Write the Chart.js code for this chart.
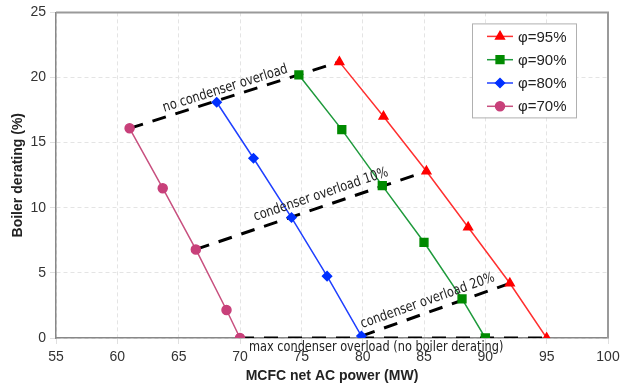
<!DOCTYPE html>
<html>
<head>
<meta charset="utf-8">
<script src="https://cdn.jsdelivr.net/npm/chart.js@4/dist/chart.umd.min.js"></script>
<style>
  body { margin: 0; background: #fff; }
  #wrap { width: 637px; height: 389px; }
</style>
</head>
<body>
<div id="wrap"><canvas id="myChart" width="637" height="389"></canvas></div>
<script>
// series data (MW, %)
const seriesNames = ["φ=95%", "φ=90%", "φ=80%", "φ=70%"];
const phi95x = [78.1, 81.7, 85.2, 88.6, 92.0, 95.0];
const phi95y = [21.2, 17.0, 12.8, 8.5, 4.2, 0];
const phi90x = [74.8, 78.3, 81.6, 85.0, 88.1, 90.0];
const phi90y = [20.2, 16.0, 11.7, 7.35, 3.0, 0];
const phi80x = [68.1, 71.1, 74.2, 77.1, 79.9];
const phi80y = [18.1, 13.8, 9.25, 4.75, 0.15];
const phi70x = [61.0, 63.7, 66.4, 68.9, 70.0];
const phi70y = [16.1, 11.5, 6.8, 2.15, 0];

// dashed overload lines
const noOverloadX = [61.0, 78.1];
const noOverloadY = [16.1, 21.2];
const overload10X = [66.4, 85.2];
const overload10Y = [6.8, 12.8];
const overload20X = [79.9, 92.0];
const overload20Y = [0.15, 4.2];
const maxOverloadX = [70.0, 95.0];
const maxOverloadY = [0, 0];

// annotation texts: label, anchor x, anchor y (angle follows the matching dashed line)
const noteTexts = ["no condenser overload", "condenser overload 10%", "condenser overload 20%", "max condenser overload (no boiler derating)"];
const noteX = [68.8, 76.6, 85.3, 81.1];
const noteY = [19.15, 11.0, 2.85, -0.75];

const xTicks = [55, 60, 65, 70, 75, 80, 85, 90, 95, 100];
const yTicks = [0, 5, 10, 15, 20, 25];

const pts = (xs, ys) => xs.map((x, i) => ({ x: x, y: ys[i] }));

const seriesDs = function (label, xs, ys, line, fill, style, r) {
    return {
        label: label,
        data: pts(xs, ys),
        showLine: true,
        borderColor: line,
        borderWidth: 1.5,
        backgroundColor: fill,
        pointBackgroundColor: fill,
        pointBorderColor: fill,
        pointStyle: style,
        pointRadius: r,
        pointHoverRadius: r,
        order: 1,
    };
};
const dashDs = function (xs, ys) {
    return {
        label: "",
        data: pts(xs, ys),
        showLine: true,
        borderColor: "#000",
        borderWidth: 3,
        borderDash: [14, 10],
        pointRadius: 0,
        order: 2,
    };
};

const datasets = [
    seriesDs(seriesNames[0], phi95x, phi95y, "#ff3030", "#ff0000", "triangle", 5),
    seriesDs(seriesNames[1], phi90x, phi90y, "#1f9a3c", "#008a00", "rect", 5.5),
    seriesDs(seriesNames[2], phi80x, phi80y, "#2040ff", "#0030ff", "rectRot", 4.5),
    seriesDs(seriesNames[3], phi70x, phi70y, "#c8507f", "#c8407a", "circle", 4.5),
    dashDs(noOverloadX, noOverloadY),
    dashDs(overload10X, overload10Y),
    dashDs(overload20X, overload20Y),
    dashDs(maxOverloadX, maxOverloadY),
];
const noteLines = [[noOverloadX, noOverloadY], [overload10X, overload10Y], [overload20X, overload20Y], [maxOverloadX, maxOverloadY]];

const drawMarker = function (ctx, style, r, x, y) {
    if (Chart.helpers && Chart.helpers.drawPoint) {
        Chart.helpers.drawPoint(ctx, { pointStyle: style, radius: r, rotation: 0, borderWidth: 1 }, x, y);
    }
};

const framePlugin = {
    id: "frame",
    afterDatasetsDraw(chart) {
        const ctx = chart.ctx;
        const a = chart.chartArea;
        const xs = chart.scales.x, ys = chart.scales.y;
        ctx.save();
        // plot border
        ctx.strokeStyle = "#9a9a9a";
        ctx.lineWidth = 2;
        ctx.beginPath();
        ctx.moveTo(a.left, a.top);
        ctx.lineTo(a.right, a.top);
        ctx.lineTo(a.right, a.bottom);
        ctx.stroke();

        // annotation texts
        ctx.fillStyle = "#222";
        ctx.font = "13px 'DejaVu Sans Condensed', 'DejaVu Sans'";
        ctx.textAlign = "center";
        ctx.textBaseline = "middle";
        noteTexts.forEach((t, i) => {
            const lx = noteLines[i][0], ly = noteLines[i][1];
            const dx = xs.getPixelForValue(lx[1]) - xs.getPixelForValue(lx[0]);
            const dy = ys.getPixelForValue(ly[1]) - ys.getPixelForValue(ly[0]);
            ctx.save();
            ctx.translate(xs.getPixelForValue(noteX[i]), ys.getPixelForValue(noteY[i]));
            ctx.rotate(Math.atan2(dy, dx));
            ctx.scale(0.97, 1.08);
            ctx.fillText(t, 0, 0);
            ctx.restore();
        });

        // legend box
        const lx = a.right - 136, ly = a.top + 11;
        ctx.fillStyle = "#fff";
        ctx.fillRect(lx, ly, 104, 94);
        ctx.strokeStyle = "#b0b0b0";
        ctx.lineWidth = 1;
        ctx.strokeRect(lx + 0.5, ly + 0.5, 104, 94);
        ctx.textAlign = "left";
        ctx.font = "15px 'Liberation Sans', Arial";
        for (let i = 0; i < 4; i++) {
            const ds = chart.data.datasets[i];
            const y = ly + 13 + i * 23.3;
            ctx.strokeStyle = ds.borderColor;
            ctx.lineWidth = 1.5;
            ctx.beginPath();
            ctx.moveTo(lx + 15, y);
            ctx.lineTo(lx + 41, y);
            ctx.stroke();
            ctx.fillStyle = ds.pointBackgroundColor;
            ctx.strokeStyle = ds.pointBorderColor;
            drawMarker(ctx, ds.pointStyle, ds.pointRadius, lx + 28, y);
            ctx.fillStyle = "#222";
            ctx.fillText(ds.label, lx + 46, y + 1);
        }
        ctx.restore();
    },
};

const tickFont = { family: "'Liberation Sans', Arial", size: 14 };
const titleFont = { family: "'Liberation Sans', Arial", size: 14, weight: "bold" };

new Chart(document.getElementById("myChart").getContext("2d"), {
    type: "scatter",
    data: { datasets: datasets },
    options: {
        responsive: false,
        animation: false,
        layout: { padding: { top: 10, right: 29, left: 0, bottom: 0 } },
        plugins: { legend: { display: false }, tooltip: { enabled: false } },
        scales: {
            x: {
                type: "linear",
                min: 55,
                max: 100,
                afterBuildTicks: (s) => { s.ticks = xTicks.map((v) => ({ value: v })); },
                afterFit: (s) => { s.height = 51; },
                ticks: { font: tickFont, color: "#333", padding: 5, maxRotation: 0 },
                grid: { color: "#e4e4e4", tickLength: 6, tickColor: "#e0e0e0" },
                border: { color: "#888", width: 1.5, dash: [4, 3] },
                title: { display: true, text: "MCFC net AC power (MW)", font: titleFont, color: "#222", padding: { top: 0, bottom: 4 } },
            },
            y: {
                min: 0,
                max: 25,
                afterBuildTicks: (s) => { s.ticks = yTicks.map((v) => ({ value: v })); },
                afterFit: (s) => { s.width = 56; },
                ticks: { font: tickFont, color: "#333", padding: 4 },
                grid: { color: "#e4e4e4", tickLength: 6, tickColor: "#e0e0e0" },
                border: { color: "#888", width: 1.5, dash: [4, 3] },
                title: { display: true, text: "Boiler derating (%)", font: titleFont, color: "#222", padding: { top: 10, bottom: 0 } },
            },
        },
    },
    plugins: [framePlugin],
});
</script>
</body>
</html>
